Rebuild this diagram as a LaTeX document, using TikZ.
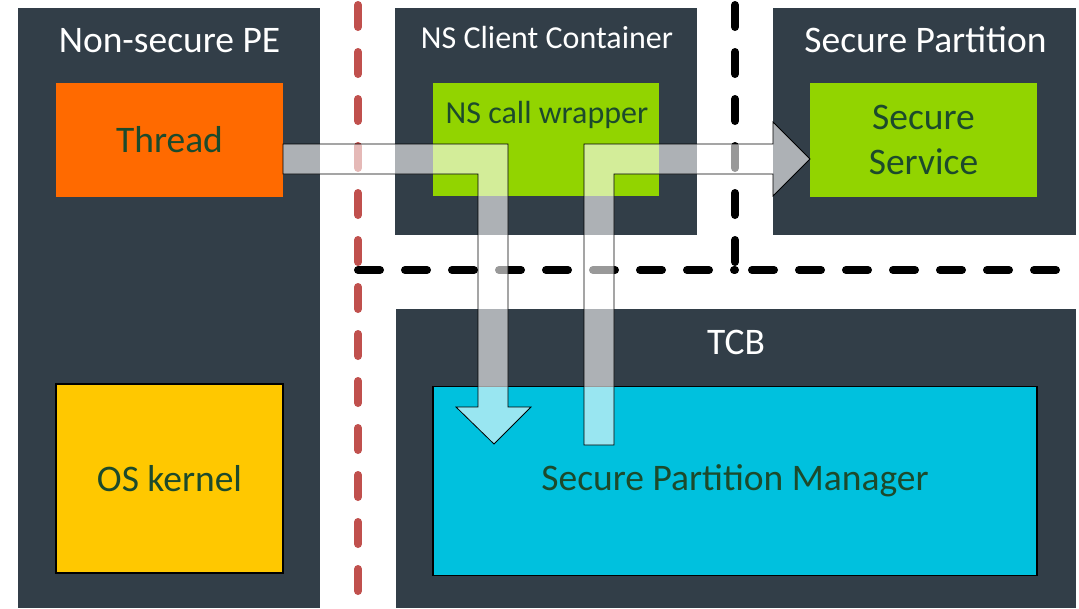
\documentclass[tikz,border=0pt]{standalone}
\usepackage{fontspec}
\setmainfont{Carlito}
\usetikzlibrary{calc}
\definecolor{panel}{HTML}{323E48}
\definecolor{orangebox}{HTML}{FF6A00}
\definecolor{limebox}{HTML}{92D400}
\definecolor{yellowbox}{HTML}{FFC800}
\definecolor{cyanbox}{HTML}{00C1DE}
\definecolor{labelgreen}{HTML}{1C4A2C}
\definecolor{nsred}{HTML}{C0504D}
\begin{document}
\begin{tikzpicture}[x=1pt,y=-1pt,
  panelbox/.style={fill=panel, inner sep=0pt, outer sep=0pt},
  title/.style={text=white, anchor=base, inner sep=0pt},
  unit/.style={inner sep=0pt, outer sep=0pt, text=labelgreen, align=center,
    font=\fontsize{37.5}{45}\selectfont},
  framed/.style={draw=black, line width=1.5pt},
  boundary/.style={line width=8pt, line cap=round, dash pattern=on 22pt off 25pt},
  flow/.style={fill=white, fill opacity=0.6, draw=black, line width=0.8pt, line join=miter}]
\useasboundingbox (0,0) rectangle (1079,608);

% Panels
\node[panelbox, minimum width=302pt, minimum height=600pt] (nspe) at (169,308) {};
\node[panelbox, minimum width=302pt, minimum height=227pt] (ncc) at (546,121.5) {};
\node[panelbox, minimum width=303pt, minimum height=227pt] (sp) at (924.5,121.5) {};
\node[panelbox, minimum width=680pt, minimum height=299pt] (tcb) at (736,458.5) {};

% Panel titles
\node[title, font=\fontsize{37.5}{42}\selectfont] (tnspe) at (169.5,52) {Non-secure PE};
\node[title, font=\fontsize{32}{36}\selectfont] (tncc) at (547,48) {NS Client Container};
\node[title, font=\fontsize{37.5}{42}\selectfont] (tsp) at (925.5,52) {Secure Partition};
\node[title, font=\fontsize{37.5}{42}\selectfont] (ttcb) at (736,354) {TCB};

% Security boundaries
\coordinate (rtop) at (358,5);
\coordinate (rbot) at (358,612);
\draw[boundary, nsred] (rtop) -- (rbot);
\coordinate (btop) at (735,5);
\coordinate (bcorner) at (735,270);
\coordinate (bleft) at (358,270);
\coordinate (bright) at (1056,270);
\draw[boundary, black] (btop) -- (bcorner) -- (bright);
\draw[boundary, black] (bleft) -- (bcorner);

% Components
\node[unit, fill=orangebox, minimum width=227pt, minimum height=114pt] (thread) at (169.5,140) {Thread};
\node[unit, fill=limebox, minimum width=226pt, minimum height=113pt] (wrapper) at (546,139.5) {};
\node[anchor=base, inner sep=0pt, text=labelgreen, font=\fontsize{32}{36}\selectfont] (twrapper) at (547,123) {NS call wrapper};
\node[unit, fill=limebox, minimum width=227pt, minimum height=114pt] (service) at (923.5,140) {Secure\\Service};
\node[unit, framed, fill=yellowbox, minimum width=227pt, minimum height=189pt] (kernel) at (169.5,478.5) {OS kernel};
\node[unit, framed, fill=cyanbox, minimum width=604pt, minimum height=189pt] (spm) at (735,481) {Secure Partition Manager};

% Call path: thread -> SPM
\draw[flow] (thread.east |- 0,144) -- (508,144) -- (508,407) -- (531,407) -- (494,444)
  -- (456,407) -- (478,407) -- (478,174) -- (thread.east |- 0,174) -- cycle;
% Call path: SPM -> secure service
\draw[flow] (584,445) -- (584,144) -- (773,144) -- (773,122) -- (service.west |- 0,159)
  -- (773,196) -- (773,174) -- (614,174) -- (614,445) -- cycle;
\end{tikzpicture}
\end{document}
